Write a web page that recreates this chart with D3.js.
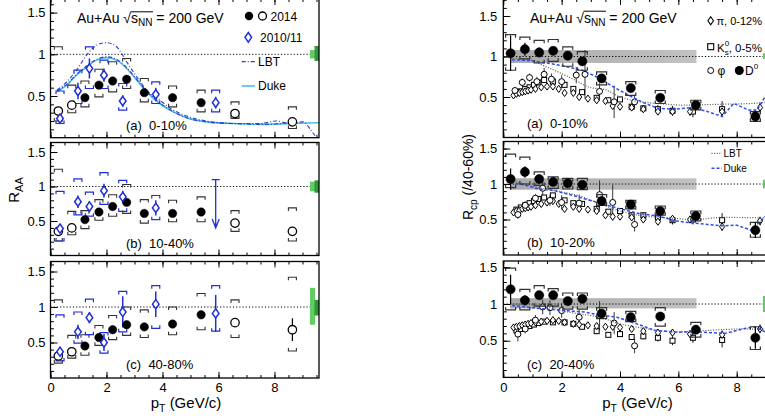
<!DOCTYPE html>
<html><head><meta charset="utf-8">
<script src="https://cdn.jsdelivr.net/npm/d3@7"></script>
<style>body{margin:0;background:#fff}svg{display:block}text{font-family:"Liberation Sans",Arial,Helvetica,sans-serif;white-space:pre}</style>
</head><body><svg id="c" width="765" height="418" xml:space="preserve"><defs></defs></svg>
<script>
// ---------------- DATA ----------------
const xTicks = [0, 2, 4, 6, 8];
const yTicks = [0.5, 1, 1.5];
const panelLabelsL = ["(a)  0-10%", "(b)  10-40%", "(c)  40-80%"];
const panelLabelsR = ["(a)  0-10%", "(b)  10-20%", "(c)  20-40%"];

// STAR 2014 D0 RAA
const pt2014 = [0.28, 0.76, 1.23, 1.73, 2.22, 2.72, 3.35, 4.36, 5.38, 6.59, 8.64];
const open2014 = [1, 1, 0, 0, 0, 0, 0, 0, 0, 1, 1];
const raa2014A = [0.32, 0.39, 0.48, 0.63, 0.68, 0.70, 0.54, 0.48, 0.42, 0.29, 0.19];
const raa2014B = [0.35, 0.40, 0.52, 0.63, 0.71, 0.77, 0.61, 0.61, 0.63, 0.47, 0.35];
const raa2014C = [0.31, 0.37, 0.45, 0.57, 0.68, 0.75, 0.72, 0.76, 0.89, 0.78, 0.68];
const stat2014A = [0.03, 0.02, 0.02, 0.02, 0.02, 0.02, 0.02, 0.02, 0.02, 0.03, 0.03];
const stat2014B = [0.03, 0.02, 0.02, 0.02, 0.02, 0.02, 0.02, 0.02, 0.03, 0.03, 0.04];
const stat2014C = [0.03, 0.03, 0.03, 0.03, 0.03, 0.03, 0.03, 0.03, 0.04, 0.05, 0.16];
const sysLo2014A = [0.20, 0.30, 0.37, 0.49, 0.55, 0.59, 0.43, 0.37, 0.31, 0.23, 0.11];
const sysHi2014A = [1.09, 0.63, 0.68, 0.82, 0.91, 0.95, 0.71, 0.62, 0.57, 0.43, 0.37];
const sysLo2014B = [0.21, 0.30, 0.39, 0.51, 0.57, 0.61, 0.47, 0.49, 0.49, 0.35, 0.21];
const sysHi2014B = [1.25, 0.64, 0.65, 0.81, 0.88, 1.03, 0.81, 0.80, 0.85, 0.65, 0.69];
const sysLo2014C = [0.21, 0.28, 0.32, 0.46, 0.54, 0.60, 0.57, 0.61, 0.68, 0.57, 0.38];
const sysHi2014C = [1.10, 0.60, 0.61, 0.74, 0.88, 1.00, 0.96, 1.00, 1.19, 1.10, 1.42];

// STAR 2010/11 D0 RAA
const pt2010 = [0.34, 0.98, 1.39, 1.91, 2.58, 3.76, 5.9];
const raa2010A = [0.23, 0.56, 0.83, 0.75, 0.44, 0.52, 0.42];
const stat2010A = [0.05, 0.10, 0.12, 0.08, 0.07, 0.08, 0.07];
const sysLo2010A = [0.17, 0.41, 0.59, 0.59, 0.33, 0.41, 0.31];
const sysHi2010A = [0.56, 0.81, 1.09, 0.93, 0.65, 0.67, 0.57];
const raa2010B = [0.39, 0.78, 0.71, 0.94, 0.85, 0.69];
const stat2010B = [0.05, 0.09, 0.08, 0.10, 0.09, 0.11];
const sysLo2010B = [0.21, 0.59, 0.57, 0.74, 0.64, 0.52];
const sysHi2010B = [0.93, 1.11, 0.92, 1.20, 1.09, 0.87];
const limit2010B = { pt: 5.9, top: 1.10, bottom: 0.40 };
const raa2010C = [0.37, 0.65, 0.85, 0.50, 0.93, 1.04, 0.91];
const stat2010C = [0.05, 0.10, 0.08, 0.12, 0.22, 0.18, 0.26];
const sysLo2010C = [0.24, 0.49, 0.61, 0.35, 0.65, 0.70, 0.66];
const sysHi2010C = [0.89, 0.93, 1.11, 0.64, 1.22, 1.30, 1.30];

// Model curves, RAA 0-10%
const lbtUpPt = [0.23, 0.58, 0.93, 1.29, 1.65, 2.0, 2.36, 2.72, 3.08, 3.43, 3.9, 4.39, 4.86, 5.57, 6.53, 7.48, 8.07, 8.55, 9.03, 9.3, 9.5];
const lbtUpVal = [0.57, 0.67, 0.81, 0.99, 1.11, 1.14, 1.09, 0.91, 0.73, 0.57, 0.45, 0.33, 0.26, 0.20, 0.17, 0.17, 0.20, 0.17, 0.19, 0.09, 0.0];
const lbtLoPt = [0.23, 0.58, 0.93, 1.29, 1.65, 2.0, 2.36, 2.72, 3.08, 3.43, 3.9, 4.39, 4.86, 5.57, 6.53, 7.6, 8.55];
const lbtLoVal = [0.56, 0.64, 0.76, 0.86, 0.94, 0.97, 0.94, 0.84, 0.70, 0.56, 0.42, 0.31, 0.24, 0.19, 0.17, 0.16, 0.18];
const dukePt = [0.23, 0.58, 0.93, 1.29, 1.65, 2.0, 2.36, 2.72, 3.08, 3.43, 3.9, 4.39, 4.86, 5.57, 6.53, 7.6, 8.55, 9.59];
const dukeVal = [0.55, 0.63, 0.75, 0.85, 0.93, 0.96, 0.93, 0.83, 0.69, 0.55, 0.41, 0.31, 0.24, 0.19, 0.17, 0.16, 0.17, 0.18];

// Normalisation boxes (left) and (right)
const normLightLo = [0.95, 0.93, 0.75], normLightHi = [1.05, 1.07, 1.27];
const normDarkLo = [0.92, 0.91, 0.88], normDarkHi = [1.10, 1.09, 1.10];
const normRLo = [0.97, 0.94, 0.89], normRHi = [1.04, 1.06, 1.11];
const bandPt = [0.23, 6.62];
const bandLo = [0.92, 0.92, 0.94], bandHi = [1.08, 1.08, 1.08];

// D0 Rcp
const ptD0 = [0.25, 0.74, 1.23, 1.71, 2.21, 2.71, 3.37, 4.37, 5.38, 6.6, 8.64];
const rcpD0A = [1.04, 1.09, 1.05, 1.07, 1.01, 0.94, 0.73, 0.61, 0.49, 0.40, 0.26];
const rcpD0B = [1.07, 1.17, 1.07, 1.03, 1.01, 0.99, 0.76, 0.71, 0.62, 0.55, 0.35];
const rcpD0C = [1.20, 1.05, 1.12, 1.12, 1.04, 1.07, 0.87, 0.82, 0.83, 0.65, 0.54];
const statD0A = [0.22, 0.08, 0.06, 0.05, 0.05, 0.05, 0.04, 0.04, 0.04, 0.05, 0.07];
const statD0B = [0.15, 0.08, 0.06, 0.05, 0.05, 0.05, 0.05, 0.04, 0.04, 0.05, 0.11];
const statD0C = [0.20, 0.07, 0.05, 0.05, 0.05, 0.05, 0.05, 0.05, 0.05, 0.06, 0.15];
const sysLoD0A = [0.83, 0.97, 0.92, 0.94, 0.88, 0.83, 0.65, 0.52, 0.42, 0.34, 0.20];
const sysHiD0A = [1.27, 1.24, 1.20, 1.21, 1.12, 1.06, 0.81, 0.69, 0.58, 0.46, 0.32];
const sysLoD0B = [0.95, 1.00, 0.98, 0.94, 0.93, 0.92, 0.70, 0.65, 0.56, 0.48, 0.25];
const sysHiD0B = [1.42, 1.38, 1.17, 1.10, 1.08, 1.08, 0.85, 0.77, 0.69, 0.62, 0.46];
const sysLoD0C = [0.92, 0.92, 0.97, 0.97, 0.93, 0.93, 0.80, 0.76, 0.70, 0.55, 0.38];
const sysHiD0C = [1.49, 1.20, 1.25, 1.21, 1.15, 1.15, 0.95, 0.90, 0.95, 0.75, 0.69];

// light hadron Rcp
const piPt = [0.35, 0.45, 0.55, 0.65, 0.75, 0.85, 0.95, 1.1, 1.3, 1.5, 1.7, 1.9, 2.1, 2.4, 2.6, 2.9, 3.2, 3.5, 3.75, 4.0, 4.4, 4.8, 5.3, 5.8, 6.4, 7.5, 8.8];
const piA = [0.52, 0.54, 0.55, 0.56, 0.57, 0.58, 0.59, 0.60, 0.62, 0.63, 0.63, 0.60, 0.55, 0.55, 0.50, 0.48, 0.46, 0.45, 0.39, 0.38, 0.37, 0.35, 0.32, 0.32, 0.32, 0.32, 0.37];
const piB = [0.60, 0.62, 0.63, 0.65, 0.66, 0.67, 0.68, 0.70, 0.72, 0.74, 0.76, 0.72, 0.65, 0.68, 0.65, 0.64, 0.62, 0.56, 0.54, 0.54, 0.53, 0.50, 0.47, 0.51, 0.50, 0.40, 0.48];
const piC = [0.68, 0.69, 0.70, 0.71, 0.72, 0.73, 0.74, 0.75, 0.76, 0.77, 0.78, 0.77, 0.75, 0.73, 0.72, 0.71, 0.70, 0.69, 0.69, 0.68, 0.66, 0.63, 0.61, 0.61, 0.59, 0.58, 0.66];
const piErr = [0.02, 0.02, 0.02, 0.02, 0.02, 0.02, 0.02, 0.02, 0.02, 0.02, 0.02, 0.02, 0.02, 0.02, 0.02, 0.02, 0.02, 0.02, 0.03, 0.03, 0.03, 0.04, 0.04, 0.05, 0.05, 0.06, 0.06];
const kPt = [0.45, 0.6, 0.75, 0.9, 1.05, 1.2, 1.4, 1.7, 2.1, 2.4, 2.7, 3.2, 3.6, 4.0, 4.4, 4.8, 5.3, 5.8, 6.5, 7.5];
const kA = [0.55, 0.57, 0.60, 0.62, 0.65, 0.68, 0.71, 0.69, 0.65, 0.60, 0.56, 0.49, 0.46, 0.47, 0.38, 0.36, 0.35, 0.33, 0.32, 0.35];
const kB = [0.64, 0.67, 0.70, 0.73, 0.76, 0.79, 0.81, 0.84, 0.77, 0.73, 0.72, 0.65, 0.61, 0.62, 0.56, 0.56, 0.53, 0.49, 0.50, 0.49];
const kC = [0.64, 0.66, 0.68, 0.70, 0.72, 0.74, 0.76, 0.75, 0.75, 0.73, 0.69, 0.63, 0.58, 0.59, 0.55, 0.56, 0.54, 0.50, 0.54, 0.51];
const kErr = [0.02, 0.02, 0.02, 0.02, 0.02, 0.02, 0.02, 0.02, 0.02, 0.02, 0.02, 0.03, 0.03, 0.03, 0.04, 0.04, 0.05, 0.06, 0.07, 0.10];
const phiPtA = [0.4, 0.65, 0.9, 1.15, 1.4, 1.65, 2.0, 2.5, 2.8, 3.3, 3.8, 4.5];
const phiA = [0.58, 0.68, 0.74, 0.69, 0.78, 0.72, 0.69, 0.77, 0.78, 0.57, 0.44, 0.44];
const phiErrA = [0.04, 0.05, 0.05, 0.06, 0.08, 0.07, 0.08, 0.10, 0.30, 0.10, 0.20, 0.08];
const phiPtB = [0.5, 0.75, 1.1, 1.35, 1.6, 2.0, 2.6, 3.3, 3.75, 4.5];
const phiB = [0.57, 0.70, 0.80, 0.94, 0.77, 0.74, 0.73, 0.85, 0.74, 0.43];
const phiErrB = [0.06, 0.06, 0.06, 0.10, 0.08, 0.10, 0.12, 0.20, 0.25, 0.10];
const phiPtC = [0.5, 0.75, 1.1, 1.35, 1.6, 2.0, 2.6, 3.3, 3.8, 4.5];
const phiC = [0.59, 0.66, 0.78, 0.96, 0.95, 0.91, 0.82, 0.84, 0.74, 0.43];
const phiErrC = [0.10, 0.06, 0.07, 0.10, 0.10, 0.10, 0.10, 0.20, 0.15, 0.10];

// Model curves, Rcp
const rLbtPtA = [0.25, 0.9, 1.3, 1.75, 2.4, 2.95, 3.5, 4.0, 4.4, 5.3, 6.2, 7.4, 8.5, 9.2];
const rLbtA = [0.98, 0.96, 0.90, 0.83, 0.72, 0.62, 0.59, 0.50, 0.46, 0.42, 0.40, 0.41, 0.42, 0.44];
const rDukePtA = [0.3, 0.9, 1.5, 2.1, 2.7, 3.2, 3.7, 4.2, 4.8, 5.3, 5.9, 6.5, 7.0, 7.5, 7.9, 8.4, 8.7, 9.0, 9.2];
const rDukeA = [0.96, 0.95, 0.92, 0.88, 0.83, 0.75, 0.64, 0.54, 0.43, 0.36, 0.35, 0.37, 0.32, 0.26, 0.42, 0.34, 0.34, 0.52, 0.60];
const rLbtPtB = [0.25, 1.2, 2.0, 2.7, 3.2, 4.0, 4.8, 5.4, 6.6, 7.5, 9.2];
const rLbtB = [1.05, 0.95, 0.89, 0.82, 0.74, 0.62, 0.55, 0.53, 0.50, 0.53, 0.52];
const rDukePtB = [0.25, 0.8, 1.2, 1.7, 2.3, 2.8, 3.4, 4.0, 4.7, 5.3, 5.9, 6.5, 7.0, 7.5, 8.0, 8.5, 9.0, 9.2];
const rDukeB = [1.02, 0.98, 0.93, 0.91, 0.85, 0.79, 0.72, 0.65, 0.58, 0.55, 0.48, 0.45, 0.43, 0.41, 0.42, 0.35, 0.55, 0.60];
const rLbtPtC = [0.25, 1.2, 1.6, 2.1, 2.7, 3.3, 4.0, 4.8, 5.9, 7.0, 8.2, 9.2];
const rLbtC = [1.00, 0.98, 0.95, 0.90, 0.86, 0.82, 0.73, 0.67, 0.62, 0.64, 0.66, 0.65];
const rDukePtC = [0.3, 1.2, 2.1, 2.8, 3.3, 3.9, 4.5, 5.2, 5.9, 6.6, 7.6, 8.2, 8.6, 9.2];
const rDukeC = [0.98, 0.94, 0.91, 0.89, 0.85, 0.82, 0.74, 0.64, 0.62, 0.62, 0.60, 0.66, 0.69, 0.58];

// ---------------- LAYOUT ----------------
const LAYOUT = { left: { x0: 50.5, x1: 319, xmax: 9.59 }, right: { x0: 503.3, x1: 771.7, xmax: 9.2 } };
const ROWS = {
  left: [{ yb: 137.7, yt: -1, ymax: 1.663 }, { yb: 255.5, yt: 142.5, ymax: 1.638 }, { yb: 378, yt: 261.5, ymax: 1.641 }],
  right: [{ yb: 137.5, yt: -1, ymax: 1.71 }, { yb: 255, yt: 141.5, ymax: 1.599 }, { yb: 377.4, yt: 261, ymax: 1.586 }]
};
const BLUE = "#1f2ed8", BLK = "#000", BRK = "#333";
const svg = d3.select("#c");
const defs = svg.select("defs");
const grad = defs.append("linearGradient").attr("id", "bandGrad").attr("x1", "0").attr("x2", "1").attr("y1", "0").attr("y2", "0");
grad.append("stop").attr("offset", "0").attr("stop-color", "#a9a9a9");
grad.append("stop").attr("offset", "1").attr("stop-color", "#c2c2c2");

function makePanel(side, row) {
  const L = LAYOUT[side], R = ROWS[side][row];
  const id = "clip-" + side + row;
  const x = d3.scaleLinear().domain([0, L.xmax]).range([L.x0, L.x1]);
  const y = d3.scaleLinear().domain([0, R.ymax]).range([R.yb, R.yt]);
  defs.append("clipPath").attr("id", id).append("rect")
    .attr("x", L.x0).attr("y", R.yt).attr("width", L.x1 - L.x0).attr("height", R.yb - R.yt);
  const g = svg.append("g");
  const back = g.append("g").attr("clip-path", `url(#${id})`);
  const plot = g.append("g").attr("clip-path", `url(#${id})`);
  const front = g.append("g");
  return { x, y, g, back, plot, front, L, R, side };
}

function axes(P, showLabels) {
  const { x, y, L, R, front } = P;
  const xMinor = d3.range(0, L.xmax + 1e-9, 0.5);
  const yMinor = d3.range(0.1, R.ymax, 0.1);
  const put = (gen, tr) => {
    const a = front.append("g").attr("transform", tr).call(gen);
    a.select(".domain").remove();
    a.selectAll("line").attr("stroke", BLK).attr("stroke-width", 1);
    a.selectAll("text").attr("font-size", 13).attr("font-family", '"Liberation Sans",Arial,sans-serif').attr("fill", BLK);
    a.attr("font-family", null).attr("font-size", null);
    return a;
  };
  put(d3.axisBottom(x).tickValues(xMinor).tickSize(-3).tickFormat(""), `translate(0,${R.yb})`);
  put(d3.axisBottom(x).tickValues(xTicks).tickSize(-6).tickPadding(5).tickFormat(showLabels ? d3.format("d") : ""), `translate(0,${R.yb})`);
  put(d3.axisTop(x).tickValues(xMinor).tickSize(-3).tickFormat(""), `translate(0,${R.yt})`);
  put(d3.axisTop(x).tickValues(xTicks).tickSize(-6).tickFormat(""), `translate(0,${R.yt})`);
  put(d3.axisLeft(y).tickValues(yMinor).tickSize(-3.5).tickFormat(""), `translate(${L.x0},0)`);
  put(d3.axisLeft(y).tickValues(yTicks).tickSize(-7).tickPadding(P.side === "left" ? 5 : 6).tickFormat(d3.format("")), `translate(${L.x0},0)`);
  front.append("rect").attr("x", L.x0).attr("y", R.yt).attr("width", L.x1 - L.x0).attr("height", R.yb - R.yt)
    .attr("fill", "none").attr("stroke", BLK).attr("stroke-width", 1.3);
}

function unityLine(P) {
  P.back.append("line").attr("x1", P.L.x0).attr("x2", P.L.x1).attr("y1", P.y(1)).attr("y2", P.y(1))
    .attr("stroke", BLK).attr("stroke-width", 1).attr("stroke-dasharray", "1.2,2");
}
function curve(P, pts, vals, color, dash, width, type) {
  P.plot.append("path").attr("d", d3.line().x(d => P.x(d[0])).y(d => P.y(d[1])).curve(type || d3.curveMonotoneX)(d3.zip(pts, vals)))
    .attr("fill", "none").attr("stroke", color).attr("stroke-width", width).attr("stroke-dasharray", dash);
}
function brackets(P, pts, lo, hi, halfW, color, width) {
  const arm = 3;
  pts.forEach((p, i) => {
    const cx = P.x(p), yh = P.y(hi[i]), yl = P.y(lo[i]);
    P.plot.append("path").attr("d", `M${cx - halfW},${yh + arm}V${yh}H${cx + halfW}V${yh + arm}M${cx - halfW},${yl - arm}V${yl}H${cx + halfW}V${yl - arm}`)
      .attr("fill", "none").attr("stroke", color).attr("stroke-width", width);
  });
}
function errBars(P, pts, vals, errs, color, width) {
  pts.forEach((p, i) => {
    const cx = P.x(p);
    P.plot.append("line").attr("x1", cx).attr("x2", cx).attr("y1", P.y(vals[i] - errs[i])).attr("y2", P.y(vals[i] + errs[i]))
      .attr("stroke", color).attr("stroke-width", width);
  });
}
function circles(P, pts, vals, r, openFlags, sw) {
  pts.forEach((p, i) => {
    const o = openFlags === true || (Array.isArray(openFlags) && openFlags[i]);
    P.plot.append("circle").attr("cx", P.x(p)).attr("cy", P.y(vals[i])).attr("r", r)
      .attr("fill", o ? "#fff" : BLK).attr("stroke", BLK).attr("stroke-width", o ? sw : 0.5);
  });
}
function diamonds(P, pts, vals, w, h, color, sw) {
  pts.forEach((p, i) => {
    const cx = P.x(p), cy = P.y(vals[i]);
    P.plot.append("path").attr("d", `M${cx},${cy - h}L${cx + w},${cy}L${cx},${cy + h}L${cx - w},${cy}Z`)
      .attr("fill", "#fff").attr("stroke", color).attr("stroke-width", sw);
  });
}
function squares(P, pts, vals, s) {
  pts.forEach((p, i) => {
    P.plot.append("rect").attr("x", P.x(p) - s).attr("y", P.y(vals[i]) - s).attr("width", 2 * s).attr("height", 2 * s)
      .attr("fill", "#fff").attr("stroke", BLK).attr("stroke-width", 1);
  });
}
function rich(g, x, y, parts) {
  let cx = x; const out = [];
  parts.forEach(p => {
    const t = g.append("text").attr("x", cx).attr("y", y + (p.dy || 0)).attr("font-size", p.s).attr("fill", p.c || BLK).text(p.t);
    const w = t.node().getComputedTextLength();
    out.push({ x: cx, w });
    if (!p.stay) cx += w;
  });
  return { end: cx, out };
}
function title(g, x, y) {
  const r = rich(g, x, y, [{ t: "Au+Au\u00A0", s: 14 }, { t: "\u221A", s: 14 }, { t: "s", s: 14 }, { t: "NN", s: 10, dy: 3 }, { t: "\u00A0=\u00A0200\u00A0GeV", s: 14 }]);
  const s0 = r.out[2].x - 0.5, s1 = r.out[3].x + r.out[3].w + 0.5;
  g.append("line").attr("x1", s0).attr("x2", s1).attr("y1", y - 11.5).attr("y2", y - 11.5).attr("stroke", BLK).attr("stroke-width", 1);
}

// ---------------- LEFT: RAA ----------------
const raaSets = [
  { v: raa2014A, st: stat2014A, lo: sysLo2014A, hi: sysHi2014A, bv: raa2010A, bst: stat2010A, blo: sysLo2010A, bhi: sysHi2010A },
  { v: raa2014B, st: stat2014B, lo: sysLo2014B, hi: sysHi2014B, bv: raa2010B, bst: stat2010B, blo: sysLo2010B, bhi: sysHi2010B },
  { v: raa2014C, st: stat2014C, lo: sysLo2014C, hi: sysHi2014C, bv: raa2010C, bst: stat2010C, blo: sysLo2010C, bhi: sysHi2010C }
];
raaSets.forEach((S, row) => {
  const P = makePanel("left", row);
  unityLine(P);
  if (row === 0) {
    curve(P, dukePt, dukeVal, "#45bdeb", null, 1.6);
    curve(P, lbtLoPt, lbtLoVal, "#2b3fc4", "4,2,1,2", 1.1);
    curve(P, lbtUpPt, lbtUpVal, "#2b3fc4", "4,2,1,2", 1.1);
  }
  const bpts = pt2010.slice(0, S.bv.length);
  brackets(P, pt2014, S.lo, S.hi, 4, BRK, 1.1);
  brackets(P, bpts, S.blo, S.bhi, 4, BLUE, 1.2);
  errBars(P, pt2014, S.v, S.st, BLK, 1.2);
  errBars(P, bpts, S.bv, S.bst, BLUE, 1.5);
  if (row === 1) {
    const ax = P.x(limit2010B.pt), yt = P.y(limit2010B.top), yb = P.y(limit2010B.bottom);
    P.plot.append("path").attr("d", `M${ax - 4},${yt}H${ax + 4}M${ax},${yt}V${yb}M${ax - 3.5},${yb - 9}L${ax},${yb}L${ax + 3.5},${yb - 9}`)
      .attr("fill", "none").attr("stroke", BLUE).attr("stroke-width", 1.3);
  }
  circles(P, pt2014, S.v, 4.2, open2014.map(d => d === 1), 1.3);
  diamonds(P, bpts, S.bv, 3.3, 4.6, BLUE, 1.5);
  const xr = P.L.x1;
  P.front.append("rect").attr("x", xr - 9).attr("width", 5).attr("y", P.y(normLightHi[row])).attr("height", P.y(normLightLo[row]) - P.y(normLightHi[row])).attr("fill", "#62cc62");
  P.front.append("rect").attr("x", xr - 4.5).attr("width", 4.5).attr("y", P.y(normDarkHi[row])).attr("height", P.y(normDarkLo[row]) - P.y(normDarkHi[row])).attr("fill", "#2e9a3c");
  axes(P, row === 2);
  P.front.append("text").attr("x", 126).attr("y", [129.5, 247.5, 369][row]).attr("font-size", 13).text(panelLabelsL[row]);
  if (row === 0) {
    const g = P.front;
    title(g, 77, 23.3);
    g.append("circle").attr("cx", 249).attr("cy", 16).attr("r", 4.2).attr("fill", BLK);
    g.append("circle").attr("cx", 262.5).attr("cy", 16).attr("r", 4).attr("fill", "#fff").attr("stroke", BLK).attr("stroke-width", 1.3);
    g.append("text").attr("x", 270.5).attr("y", 20.5).attr("font-size", 12).text("2014");
    g.append("path").attr("d", "M248.3,32.5L251.6,37.3L248.3,42.1L245,37.3Z").attr("fill", "#fff").attr("stroke", BLUE).attr("stroke-width", 1.5);
    g.append("text").attr("x", 260).attr("y", 41.5).attr("font-size", 12).text("2010/11");
    g.append("line").attr("x1", 241.7).attr("x2", 255).attr("y1", 61.7).attr("y2", 61.7).attr("stroke", "#2b3fc4").attr("stroke-width", 1.2).attr("stroke-dasharray", "4,2,1,2");
    g.append("text").attr("x", 258).attr("y", 66).attr("font-size", 12).text("LBT");
    g.append("line").attr("x1", 241.7).attr("x2", 255).attr("y1", 86).attr("y2", 86).attr("stroke", "#45bdeb").attr("stroke-width", 1.6);
    g.append("text").attr("x", 258).attr("y", 90.2).attr("font-size", 12).text("Duke");
  }
});

// ---------------- RIGHT: Rcp ----------------
const rcpSets = [
  { d: rcpD0A, st: statD0A, lo: sysLoD0A, hi: sysHiD0A, pi: piA, k: kA, phPt: phiPtA, ph: phiA, phE: phiErrA, lp: rLbtPtA, lv: rLbtA, dp: rDukePtA, dv: rDukeA },
  { d: rcpD0B, st: statD0B, lo: sysLoD0B, hi: sysHiD0B, pi: piB, k: kB, phPt: phiPtB, ph: phiB, phE: phiErrB, lp: rLbtPtB, lv: rLbtB, dp: rDukePtB, dv: rDukeB },
  { d: rcpD0C, st: statD0C, lo: sysLoD0C, hi: sysHiD0C, pi: piC, k: kC, phPt: phiPtC, ph: phiC, phE: phiErrC, lp: rLbtPtC, lv: rLbtC, dp: rDukePtC, dv: rDukeC }
];
rcpSets.forEach((S, row) => {
  const P = makePanel("right", row);
  P.back.append("rect").attr("x", P.x(bandPt[0])).attr("width", P.x(bandPt[1]) - P.x(bandPt[0]))
    .attr("y", P.y(bandHi[row])).attr("height", P.y(bandLo[row]) - P.y(bandHi[row])).attr("fill", "url(#bandGrad)");
  unityLine(P);
  errBars(P, piPt, S.pi, piErr, BLK, 0.9);
  errBars(P, kPt, S.k, kErr, BLK, 0.9);
  errBars(P, S.phPt, S.ph, S.phE, "#222", 0.9);
  squares(P, kPt, S.k, 2.5);
  diamonds(P, piPt, S.pi, 2.6, 3.6, BLK, 1);
  circles(P, S.phPt, S.ph, 3, true, 1);
  curve(P, S.lp, S.lv, "#555", "1,1.6", 1.2, d3.curveMonotoneX);
  curve(P, S.dp, S.dv, "#2b4cf0", "3,2", 1.5, d3.curveLinear);
  brackets(P, ptD0, S.lo, S.hi, 5, BRK, 1.2);
  errBars(P, ptD0, S.d, S.st, BLK, 1.2);
  circles(P, ptD0, S.d, 4.6, false, 1);
  P.front.append("rect").attr("x", P.x(8.9)).attr("width", P.x(9.2) - P.x(8.9))
    .attr("y", P.y(normRHi[row])).attr("height", P.y(normRLo[row]) - P.y(normRHi[row])).attr("fill", "#62cc62");
  axes(P, row === 2);
  P.front.append("text").attr("x", 527).attr("y", [128.3, 247.3, 369][row]).attr("font-size", 13).text(panelLabelsR[row]);
  const g = P.front;
  if (row === 0) {
    title(g, 530, 22.7);
    g.append("path").attr("d", "M710.7,16.7L713.5,20.7L710.7,24.7L707.9,20.7Z").attr("fill", "#fff").attr("stroke", BLK).attr("stroke-width", 1.1);
    rich(g, 716.5, 25, [{ t: "\u03C0,\u00A00-12%", s: 11 }]);
    g.append("rect").attr("x", 707.7).attr("y", 43.7).attr("width", 6).attr("height", 6).attr("fill", "#fff").attr("stroke", BLK).attr("stroke-width", 1.1);
    rich(g, 717, 51.5, [{ t: "K", s: 11.5 }, { t: "0", s: 8, dy: -6, stay: true }, { t: "s", s: 8, dy: 3 }, { t: ",\u00A00-5%", s: 11.5 }]);
    g.append("circle").attr("cx", 710.7).attr("cy", 70.5).attr("r", 3).attr("fill", "#fff").attr("stroke", BLK).attr("stroke-width", 1);
    rich(g, 717.5, 75, [{ t: "\u03C6", s: 12 }]);
    g.append("circle").attr("cx", 739.3).attr("cy", 70.5).attr("r", 4.5).attr("fill", BLK);
    rich(g, 745, 75, [{ t: "D", s: 12 }, { t: "0", s: 8, dy: -6 }]);
  }
  if (row === 1) {
    g.append("line").attr("x1", 711.5).attr("x2", 722).attr("y1", 153.3).attr("y2", 153.3).attr("stroke", "#555").attr("stroke-width", 1.2).attr("stroke-dasharray", "1,1.6");
    g.append("text").attr("x", 723.5).attr("y", 157).attr("font-size", 10).text("LBT");
    g.append("line").attr("x1", 711.5).attr("x2", 722).attr("y1", 168.3).attr("y2", 168.3).attr("stroke", "#2b4cf0").attr("stroke-width", 1.5).attr("stroke-dasharray", "3,2");
    g.append("text").attr("x", 723.5).attr("y", 172).attr("font-size", 10).text("Duke");
  }
});

// ---------------- AXIS TITLES ----------------
function vLabel(cy, baseX, parts) {
  const g = svg.append("g");
  const r = rich(g, 0, 0, parts);
  g.attr("transform", `translate(${baseX},${cy}) rotate(-90) translate(${-r.end / 2},0)`);
}
vLabel(190, 18.5, [{ t: "R", s: 15 }, { t: "AA", s: 11, dy: 4 }]);
vLabel(177, 473, [{ t: "R", s: 14 }, { t: "cp", s: 10, dy: 4 }, { t: "\u00A0(/40-60%)", s: 14 }]);
function xLabel(cx) {
  const g = svg.append("g");
  const r = rich(g, 0, 0, [{ t: "p", s: 15 }, { t: "T", s: 10.5, dy: 4 }, { t: "\u00A0(GeV/c)", s: 15 }]);
  g.attr("transform", `translate(${cx - r.end / 2},407.5)`);
}
xLabel(186);
xLabel(637.5);
</script></body></html>
